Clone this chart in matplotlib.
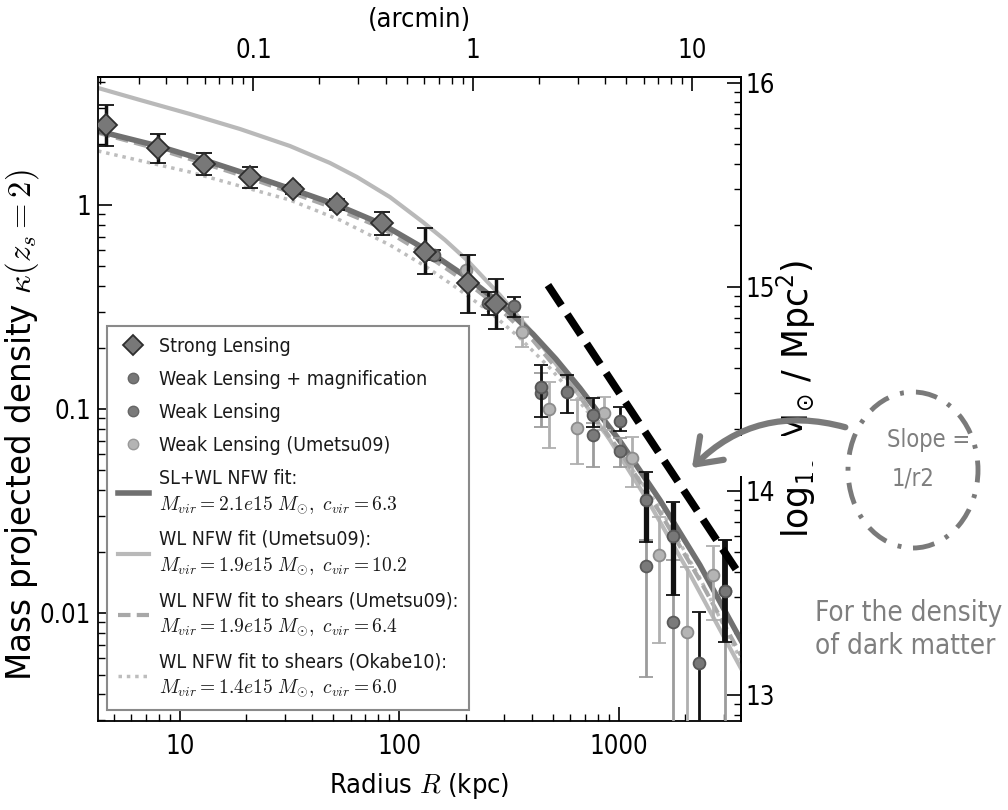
import numpy as np
import matplotlib
matplotlib.use("Agg")
import matplotlib.pyplot as plt
from matplotlib import font_manager as fm
from matplotlib.ticker import FuncFormatter, NullFormatter, FixedLocator
from matplotlib.lines import Line2D
from matplotlib.patches import Ellipse, FancyArrowPatch, Rectangle

# ---------------- data ----------------
# Strong lensing (diamonds): radius [kpc], kappa, lower / upper end of error bar
sl_r = [4.6, 7.96, 12.9, 20.8, 32.7, 51.9, 83.2, 131, 205, 275]
sl_k = [2.47, 1.90, 1.59, 1.367, 1.194, 1.008, 0.813, 0.586, 0.416, 0.326]
sl_lo = [1.95, 1.61, 1.40, 1.216, 1.13, 0.95, 0.713, 0.461, 0.296, 0.246]
sl_hi = [3.09, 2.22, 1.79, 1.53, 1.26, 1.07, 0.927, 0.774, 0.569, 0.432]

# Weak lensing + magnification
wlm_r = [143, 252, 333, 440, 578, 759, 1011, 1328, 1767, 2322, 3040]
wlm_k = [0.569, 0.330, 0.320, 0.1286, 0.1216, 0.0935, 0.0877, 0.0358, 0.0239, 0.00571, 0.01282]
wlm_lo = [0.54, 0.289, 0.2835, 0.0917, 0.0953, 0.082, 0.078, 0.0224, 0.01226, 1e-4, 0.00723]
wlm_hi = [0.60, 0.376, 0.355, 0.164, 0.147, 0.1128, 0.1026, 0.0493, 0.0351, 0.01015, 0.0228]

# Weak lensing
wl_r = [440, 759, 1011, 1328, 1767, 3040]
wl_k = [0.1194, 0.0746, 0.0625, 0.0170, 0.00906, 0.01282]
wl_lo = [0.0819, 0.0521, 0.052, 0.00488, 1e-4, 1e-4]
wl_hi = [0.150, 0.085, 0.072, 0.0228, 0.0182, 0.0228]

# Weak lensing (Umetsu09)
u_r = [202, 360, 481, 641, 857, 1143, 1527, 2033, 2690]
u_k = [0.480, 0.239, 0.100, 0.0804, 0.0953, 0.0577, 0.0192, 0.00810, 0.01535]
u_lo = [0.42, 0.202, 0.0642, 0.0538, 0.0789, 0.0416, 0.00715, 1e-4, 0.00924]
u_hi = [0.569, 0.2835, 0.136, 0.1107, 0.1148, 0.0732, 0.0297, 0.01686, 0.0213]

# NFW fit curves
fit_slwl_r = [4.23, 7.94, 12.86, 20.84, 32.7, 51.9, 83.2, 130.7, 205.2, 275.2, 335.9, 405.8,
              516.4, 664, 1011, 1538, 2339, 3596]
fit_slwl_k = [2.306, 1.946, 1.662, 1.403, 1.191, 1.0, 0.807, 0.609, 0.4386, 0.342, 0.2825, 0.2331,
              0.1758, 0.1267, 0.0697, 0.0358, 0.01719, 0.00737]

fit_u09_r = [4.23, 6.57, 11.10, 18.76, 31.7, 48.25, 64.0, 90.5, 127.9, 161.2, 203.0, 287.0,
             393.0, 598.0, 910.0, 1384, 2106, 3596]
fit_u09_k = [3.747, 3.272, 2.793, 2.358, 1.946, 1.607, 1.372, 1.094, 0.825, 0.674, 0.5374, 0.362,
             0.2439, 0.1356, 0.0705, 0.0342, 0.01553, 0.00537]

fit_u09s_r = [4.23, 7.94, 12.86, 20.84, 32.7, 51.9, 83.2, 130.7, 205.2, 275.2, 405.8, 664,
              1011, 1538, 2339, 3596]
fit_u09s_k = [2.26, 1.88, 1.60, 1.353, 1.143, 0.955, 0.772, 0.575, 0.414, 0.3235, 0.2175, 0.1155,
              0.0620, 0.0312, 0.01452, 0.00622]

fit_ok10_r = [4.23, 11.1, 31.7, 53.6, 90.5, 130.7, 182.8, 258.4, 354, 484.9, 664, 1011, 1538,
              2339, 3596]
fit_ok10_k = [1.8396, 1.451, 1.058, 0.844, 0.6365, 0.5023, 0.3918, 0.2989, 0.2229, 0.1589, 0.1082,
              0.0615, 0.0327, 0.01485, 0.00588]

# black dashed "slope" guide line (end points)
slope_r = [475, 3557]
slope_k = [0.405, 0.01535]

legend_labels = [
    "Strong Lensing",
    "Weak Lensing + magnification",
    "Weak Lensing",
    "Weak Lensing (Umetsu09)",
    "SL+WL NFW fit:\n$M_{vir}=2.1e15\\ M_{\\odot},\\ c_{vir}=6.3$",
    "WL NFW fit (Umetsu09):\n$M_{vir}=1.9e15\\ M_{\\odot},\\ c_{vir}=10.2$",
    "WL NFW fit to shears (Umetsu09):\n$M_{vir}=1.9e15\\ M_{\\odot},\\ c_{vir}=6.4$",
    "WL NFW fit to shears (Okabe10):\n$M_{vir}=1.4e15\\ M_{\\odot},\\ c_{vir}=6.0$",
]

x_ticks = [10, 100, 1000]
y_ticks = [0.01, 0.1, 1]
arcmin_ticks = [0.1, 1, 10]
log_sigma_ticks = [13, 14, 15, 16]

kpc_per_arcmin = 216.0
log_sigma_crit = 15.40

# ---------------- fonts ----------------
_fl = fm.fontManager.ttflist
_names = {f.name for f in _fl}
_cond = [f for f in _fl if "DejaVu" in f.name and str(f.stretch) == "condensed"]
if _cond:
    HFAM, HSC = [_cond[0].name], 1.0
elif "Liberation Sans Narrow" in _names:
    HFAM, HSC = ["Liberation Sans Narrow"], 1.05
else:
    HFAM, HSC = ["DejaVu Sans"], 0.9
plt.rcParams["font.family"] = HFAM + ["DejaVu Sans"]
plt.rcParams["font.stretch"] = "condensed"
plt.rcParams["mathtext.fontset"] = "cm"

TICK = 18.5 * HSC
LEG = 14 * HSC
XLAB = 19.5 * HSC

# ---------------- figure ----------------
fig = plt.figure(figsize=(10.08, 8.10), dpi=100)
ax = fig.add_axes([98 / 1008, 1 - 721 / 810, 643 / 1008, 644 / 810])
ax.set_xscale("log")
ax.set_yscale("log")

# fit curves
ax.plot(fit_u09_r, fit_u09_k, color="#b9b9b9", lw=3, zorder=2)
ax.plot(fit_ok10_r, fit_ok10_k, color="#bdbdbd", lw=2.5, ls=(0, (1, 1.4)), zorder=2)
ax.plot(fit_u09s_r, fit_u09s_k, color="#a8a8a8", lw=3, ls=(0, (3, 1.5)), zorder=2)
ax.plot(fit_slwl_r, fit_slwl_k, color="#707070", lw=4, zorder=2.5)


def draw_points(r, k, lo, hi, marker, ms, fc, ec, ecol, elw, cap, z):
    k = np.asarray(k, float)
    yerr = [k - np.asarray(lo, float), np.asarray(hi, float) - k]
    return ax.errorbar(r, k, yerr=yerr, fmt=marker, ms=ms, mfc=fc, mec=ec, mew=1.3,
                       ecolor=ecol, elinewidth=elw, capsize=cap, capthick=elw, zorder=z)


draw_points(u_r, u_k, u_lo, u_hi, "o", 8.5, "#b4b4b4", "#8c8c8c", "#b0b0b0", 2.0, 5, 3)
draw_points(wl_r, wl_k, wl_lo, wl_hi, "o", 8.5, "#7a7a7a", "#5a5a5a", "#9c9c9c", 2.0, 5, 3.2)
c = draw_points(wlm_r, wlm_k, wlm_lo, wlm_hi, "o", 8.5, "#777777", "#555555", "#111111", 2.0, 5, 3.4)
c.lines[2][0].set_linewidths([2, 2, 2, 2, 2, 2, 2, 3.8, 3.8, 2, 4.2])
draw_points(sl_r, sl_k, sl_lo, sl_hi, "D", 11.5, "#787878", "#2e2e2e", "#111111", 2.5, 6, 4)

# slope guide
ax.plot(slope_r, slope_k, color="black", lw=5.5, ls=(0, (3.2, 1.4)), zorder=6,
        solid_capstyle="butt", dash_capstyle="butt")

ax.set_xlim(4.23, 3600)
ax.set_ylim(0.00296, 4.24)

fmt = FuncFormatter(lambda v, p: f"{v:g}")
ax.xaxis.set_major_locator(FixedLocator(x_ticks))
ax.yaxis.set_major_locator(FixedLocator(y_ticks))
ax.xaxis.set_major_formatter(fmt)
ax.yaxis.set_major_formatter(fmt)
ax.xaxis.set_minor_formatter(NullFormatter())
ax.yaxis.set_minor_formatter(NullFormatter())
ax.tick_params(which="both", direction="in", labelsize=TICK)
ax.tick_params(axis="x", pad=9)
ax.tick_params(axis="y", pad=5)
ax.tick_params(which="major", length=10, width=1.2)
ax.tick_params(which="minor", length=5, width=1.0)
for s in ax.spines.values():
    s.set_linewidth(1.3)

ax.set_xlabel("Radius $R$ (kpc)", fontsize=XLAB, labelpad=8)
yl = ax.set_ylabel("Mass projected density $\\kappa(z_s=2)$", fontsize=23.5,
                   fontfamily="DejaVu Sans", fontstretch="normal")
yl.set_math_fontfamily("cm")
ax.yaxis.set_label_coords(-0.089, 0.46)

# top axis: arcmin
secx = ax.secondary_xaxis("top", functions=(lambda r: np.asarray(r) / kpc_per_arcmin,
                                            lambda a: np.asarray(a) * kpc_per_arcmin))
secx.xaxis.set_major_locator(FixedLocator(arcmin_ticks))
secx.xaxis.set_major_formatter(fmt)
secx.xaxis.set_minor_formatter(NullFormatter())
secx.tick_params(which="both", direction="in", labelsize=TICK, pad=9)
secx.tick_params(which="major", length=10, width=1.2)
secx.tick_params(which="minor", length=5, width=1.0)
secx.set_xlabel("(arcmin)", fontsize=XLAB, labelpad=8)
secx.spines["top"].set_linewidth(1.3)

# right axis: log10 surface density
secy = ax.secondary_yaxis("right", functions=(lambda k: np.asarray(k) * 10 ** log_sigma_crit,
                                              lambda s: np.asarray(s) / 10 ** log_sigma_crit))
secy.yaxis.set_major_locator(FixedLocator([10.0 ** t for t in log_sigma_ticks]))
secy.yaxis.set_major_formatter(FuncFormatter(lambda v, p: f"{np.log10(v):.0f}"))
secy.yaxis.set_minor_formatter(NullFormatter())
secy.tick_params(which="both", direction="in", labelsize=TICK, pad=3)
secy.tick_params(which="major", length=10, width=1.2)
secy.tick_params(which="minor", length=5, width=1.0)
secy.spines["right"].set_linewidth(1.3)
ryl = secy.set_ylabel("log$_{10}$(M$_{\\odot}$ / Mpc$^2$)", fontsize=25,
                      fontfamily="DejaVu Sans", fontstretch="normal", labelpad=0)
ryl.set_math_fontfamily("dejavusans")

# legend
handles = [
    Line2D([], [], ls="none", marker="D", ms=10, mfc="#787878", mec="#2e2e2e", mew=1.3),
    Line2D([], [], ls="none", marker="o", ms=7.5, mfc="#777777", mec="#666666"),
    Line2D([], [], ls="none", marker="o", ms=7.5, mfc="#7a7a7a", mec="#666666"),
    Line2D([], [], ls="none", marker="o", ms=7.5, mfc="#b4b4b4", mec="#999999"),
    Line2D([], [], color="#707070", lw=4),
    Line2D([], [], color="#b9b9b9", lw=3),
    Line2D([], [], color="#a8a8a8", lw=3, ls=(0, (3, 1.5))),
    Line2D([], [], color="#bdbdbd", lw=2.5, ls=(0, (1, 1.4))),
]
leg = ax.legend(handles, legend_labels, loc="lower left", bbox_to_anchor=(0.014, 0.017),
                borderaxespad=0, fontsize=LEG, frameon=True, fancybox=False,
                edgecolor="#8a8a8a", framealpha=1, handlelength=1.6, labelspacing=0.72,
                numpoints=1, borderpad=0.55, handletextpad=0.5)
leg.get_frame().set_linewidth(1.5)
leg.set_zorder(5)
for t in leg.get_texts():
    t.set_math_fontfamily("cm")
    t.set_color("#1a1a1a")
    t.set_linespacing(1.45)

# ---------------- annotation (figure coordinates) ----------------
W, H = 1008.0, 810.0
cover = Rectangle((737 / W, 1 - 476 / H), 75 / W, 40 / H, transform=fig.transFigure,
                  facecolor="white", edgecolor="none", zorder=3)
fig.add_artist(cover)
circ = Ellipse((913 / W, 1 - 470 / H), 130 / W, 156 / H, transform=fig.transFigure,
               fill=False, edgecolor="#7a7a7a", lw=3.5, ls=(0, (4.5, 2.5, 0.8, 2.5)), zorder=4)
fig.add_artist(circ)
arr = FancyArrowPatch((848 / W, 1 - 428 / H), (690 / W, 1 - 470 / H), transform=fig.transFigure,
                      connectionstyle="arc3,rad=0.3", arrowstyle="->,head_length=0.55,head_width=0.4",
                      mutation_scale=30, lw=4.5, color="#7a7a7a", zorder=4)
fig.add_artist(arr)
ANN = dict(color="#7f7f7f", ha="left", va="center")
fig.text(887 / W, 1 - 440 / H, "Slope =", fontsize=17 * HSC, **ANN)
fig.text(892 / W, 1 - 478 / H, "1/r2", fontsize=17 * HSC, **ANN)
fig.text(815 / W, 1 - 613 / H, "For the density", fontsize=20 * HSC, **ANN)
fig.text(815 / W, 1 - 646 / H, "of dark matter", fontsize=20 * HSC, **ANN)

fig.savefig("out.png", dpi=100, facecolor="white")
